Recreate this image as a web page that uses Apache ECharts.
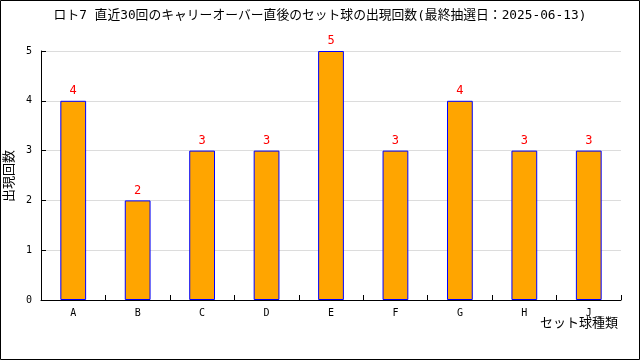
<!DOCTYPE html>
<html><head><meta charset="utf-8">
<script src="https://cdn.jsdelivr.net/npm/echarts@6/dist/echarts.min.js"></script>
<style>html,body{margin:0;padding:0;background:#fff}#c{width:640px;height:360px}</style>
</head><body><div id="c"></div>
<script>
const categories = ['A','B','C','D','E','F','G','H','J'];
const counts = [4,2,3,3,5,3,4,3,3];
const yTicks = [0,1,2,3,4,5];
const titleText = 'ロト7 直近30回のキャリーオーバー直後のセット球の出現回数(最終抽選日：2025-06-13)';
const xName = 'セット球種類';
const yName = '出現回数';
const font = '"DejaVu Sans Mono","Noto Sans CJK JP",monospace';
const chart = echarts.init(document.getElementById('c'), null, {renderer:'canvas'});
chart.setOption({
  animation:false,
  backgroundColor:'#fff',
  title:{text:titleText,left:'center',top:4,textStyle:{fontFamily:font,fontSize:12.8,fontWeight:'normal',color:'#000'}},
  grid:{left:41,right:19,top:51,bottom:60,containLabel:false,outerBoundsMode:'none'},
  xAxis:{type:'category',data:categories,
    axisLine:{lineStyle:{color:'#000',width:1}},
    axisTick:{show:true,inside:true,length:5,lineStyle:{color:'#000'}},
    axisLabel:{fontFamily:font,fontSize:10,color:'#000',margin:8}},
  yAxis:{type:'value',min:0,max:5,interval:1,
    axisLine:{show:true,lineStyle:{color:'#000',width:1}},
    axisTick:{show:true,inside:true,length:5,lineStyle:{color:'#000'}},
    axisLabel:{fontFamily:font,fontSize:10,color:'#000',margin:9},
    splitLine:{show:true,lineStyle:{color:'#dcdcdc',width:1}}},
  series:[{type:'bar',data:counts,barWidth:'40%',
    itemStyle:{color:'#FFA500',borderColor:'#0000FF',borderWidth:1},
    label:{show:true,position:'top',distance:4,color:'#FF0000',fontFamily:font,fontSize:12}}],
  graphic:[
    {type:'rect',shape:{x:0.5,y:0.5,width:639,height:359},style:{fill:null,stroke:'#000',lineWidth:1},silent:true},
    {type:'text',x:618,y:324,style:{text:xName,fontFamily:font,fontSize:13,fill:'#000',align:'right',verticalAlign:'middle'},silent:true},
    {type:'text',x:10,y:176,rotation:Math.PI/2,style:{text:yName,fontFamily:font,fontSize:13,fill:'#000',align:'center',verticalAlign:'middle'},silent:true}
  ]
});
</script></body></html>
